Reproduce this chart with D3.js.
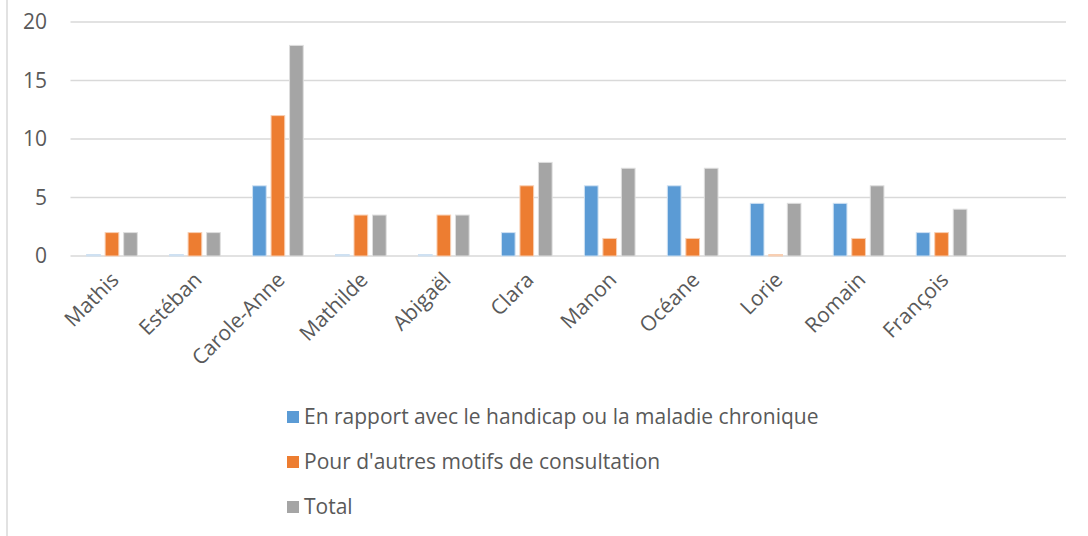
<!DOCTYPE html>
<html>
<head>
<meta charset="utf-8">
<script src="https://cdn.jsdelivr.net/npm/d3@7"></script>
<style>
  body { margin: 0; background: #fff; }
  text { font-family: "Open Sans", sans-serif; fill: #595959; }
</style>
</head>
<body>
<svg id="chart"></svg>
<script>
const WIDTH = 1088;
const HEIGHT = 536;

// 12th slot is empty in the original chart
const names = ['Mathis', 'Estéban', 'Carole-Anne', 'Mathilde', 'Abigaël', 'Clara',
	'Manon', 'Océane', 'Lorie', 'Romain', 'François', ''];
const handicap = [0, 0, 6, 0, 0, 2, 6, 6, 4.5, 4.5, 2];
const autres = [2, 2, 12, 3.5, 3.5, 6, 1.5, 1.5, 0, 1.5, 2];
const total = [2, 2, 18, 3.5, 3.5, 8, 7.5, 7.5, 4.5, 6, 4];
const yTicks = [0, 5, 10, 15, 20];

const seriesNames = [
	'En rapport avec le handicap ou la maladie chronique',
	'Pour d\'autres motifs de consultation',
	'Total'
];
const colors = ['#5b9bd5', '#ed7d31', '#a5a5a5'];
const edgeColors = ['#cfe1f2', '#f8cfb3', '#dedede'];

const seriesValues = [handicap, autres, total];

const svg = d3.select('#chart')
	.attr('width', WIDTH)
	.attr('height', HEIGHT);

const plot = {left: 70.5, right: 1066, top: 22, bottom: 256};

const x = d3.scaleBand()
	.domain(d3.range(names.length))
	.range([plot.left, plot.right]);

const y = d3.scaleLinear()
	.domain([0, 20])
	.range([plot.bottom, plot.top]);

// chart frame, only the left edge shows
svg.append('line')
	.attr('x1', 7).attr('x2', 7)
	.attr('y1', 0).attr('y2', HEIGHT)
	.attr('stroke', '#d9d9d9')
	.attr('stroke-width', 1.5);

// gridlines
svg.append('g')
	.selectAll('line')
	.data(yTicks)
	.enter()
	.append('line')
	.attr('x1', plot.left)
	.attr('x2', plot.right)
	.attr('y1', d => y(d))
	.attr('y2', d => y(d))
	.attr('stroke', '#d9d9d9')
	.attr('stroke-width', 1.5);

svg.append('g')
	.selectAll('text')
	.data(yTicks)
	.enter()
	.append('text')
	.attr('x', 47)
	.attr('y', d => y(d))
	.attr('dy', '0.35em')
	.attr('text-anchor', 'end')
	.style('font-size', '21px')
	.text(d => d);

const inner = d3.scaleBand()
	.domain([0, 1, 2])
	.range([-27.75, 27.75])
	.paddingInner(0.26)
	.paddingOuter(0.13);

seriesValues.forEach((vals, s) => {
	svg.append('g')
		.selectAll('rect')
		.data(vals)
		.enter()
		.append('rect')
		.attr('x', (d, i) => x(i) + x.bandwidth() / 2 + inner(s))
		.attr('width', inner.bandwidth())
		.attr('y', d => Math.min(y(d), y(0) - 1.5))
		.attr('height', d => Math.max(y(0) - y(d), 1.5))
		.attr('fill', d => d === 0 ? edgeColors[s] : colors[s])
		.attr('stroke', edgeColors[s])
		.attr('stroke-width', 1);
});

// x labels, rotated
svg.append('g')
	.selectAll('text')
	.data(names)
	.enter()
	.append('text')
	.attr('transform', (d, i) => `translate(${x(i) + x.bandwidth() / 2 + 3},${plot.bottom + 20}) rotate(-45)`)
	.attr('text-anchor', 'end')
	.attr('dy', '0.35em')
	.style('font-size', '21px')
	.text(d => d);

// legend
const legend = svg.append('g')
	.selectAll('g')
	.data(seriesNames)
	.enter()
	.append('g')
	.attr('transform', (d, i) => `translate(287,${417 + i * 45})`);

legend.append('rect')
	.attr('x', 0)
	.attr('y', -6)
	.attr('width', 12)
	.attr('height', 12)
	.attr('fill', (d, i) => colors[i]);

legend.append('text')
	.attr('x', 17)
	.attr('y', 0)
	.attr('dy', '0.35em')
	.style('font-size', '21px')
	.text(d => d);
</script>
</body>
</html>
